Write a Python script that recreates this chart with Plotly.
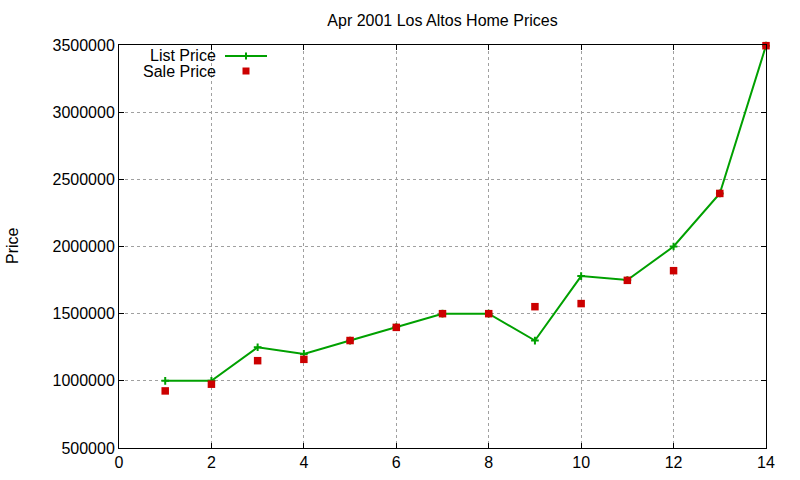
import plotly.graph_objects as go

# house index (x) and prices
house = [1, 2, 3, 4, 5, 6, 7, 8, 9, 10, 11, 12, 13, 14]
list_price = [1000000, 1000000, 1250000, 1200000, 1300000, 1400000, 1500000,
              1500000, 1300000, 1780000, 1750000, 2000000, 2395000, 3495000]
sale_price = [925000, 975000, 1150000, 1160000, 1300000, 1398000, 1500000,
              1500000, 1552000, 1575000, 1748000, 1820000, 2395000, 3495000]

x_ticks = [0, 2, 4, 6, 8, 10, 12, 14]
y_ticks = [500000, 1000000, 1500000, 2000000, 2500000, 3000000, 3500000]

GREEN = "#00a000"
RED = "#cc0000"
FONT = "Liberation Sans, Arial, sans-serif"

W, H = 800, 480
L, R, T, B = 119, 766, 45, 448   # plot area in pixels


def px_x(p):
    return (p - L) / (R - L)


def px_y(p):
    return (B - p) / (B - T)


fig = go.Figure()

fig.add_trace(go.Scatter(
    x=house, y=list_price, name="List Price",
    mode="lines+markers",
    line=dict(color=GREEN, width=2),
    marker=dict(symbol="cross-thin", size=5.5, line=dict(color=GREEN, width=2)),
    cliponaxis=False,
))
fig.add_trace(go.Scatter(
    x=house, y=sale_price, name="Sale Price",
    mode="markers",
    marker=dict(symbol="square", size=7.5, color=RED),
    cliponaxis=False,
))

axis_common = dict(
    showline=True, linecolor="black", linewidth=1, mirror="allticks",
    ticks="inside", ticklen=5, tickcolor="black",
    showgrid=True, gridcolor="#a0a0a0", griddash="dot", gridwidth=1,
    zeroline=False, automargin=False,
    tickfont=dict(family=FONT, size=16, color="black"),
)

fig.update_xaxes(range=[0, 14], tickvals=x_ticks, **axis_common)
fig.update_yaxes(range=[500000, 3500000], tickvals=y_ticks, tickformat="d",
                 **axis_common)

# gnuplot-style legend: text on the left, sample on the right
legend_shapes = [
    dict(type="line", xref="paper", yref="paper",
         x0=px_x(225), x1=px_x(267), y0=px_y(56), y1=px_y(56),
         line=dict(color=GREEN, width=2)),
    dict(type="line", xref="paper", yref="paper",
         x0=px_x(246), x1=px_x(246), y0=px_y(52.5), y1=px_y(59.5),
         line=dict(color=GREEN, width=2)),
    dict(type="rect", xref="paper", yref="paper",
         x0=px_x(242.5), x1=px_x(249.5), y0=px_y(67.5), y1=px_y(74.5),
         line=dict(width=0), fillcolor=RED),
]

annotations = [
    dict(text="List Price", xref="paper", yref="paper",
         x=px_x(218), y=px_y(55.5), xanchor="right", yanchor="middle",
         showarrow=False, font=dict(family=FONT, size=16, color="black")),
    dict(text="Sale Price", xref="paper", yref="paper",
         x=px_x(218), y=px_y(72), xanchor="right", yanchor="middle",
         showarrow=False, font=dict(family=FONT, size=16, color="black")),
    dict(text="Price", xref="paper", yref="paper",
         x=px_x(12), y=px_y(246), xanchor="center", yanchor="middle",
         textangle=-90, showarrow=False,
         font=dict(family=FONT, size=16, color="black")),
]

fig.update_layout(
    width=W, height=H,
    margin=dict(l=L, r=W - R, t=T, b=H - B),
    paper_bgcolor="white", plot_bgcolor="white",
    showlegend=False,
    title=dict(text="Apr 2001 Los Altos Home Prices",
               x=0.5, xref="paper", y=1 - 20 / H, yref="container",
               xanchor="center", yanchor="middle",
               font=dict(family=FONT, size=16, color="black")),
    font=dict(family=FONT, size=16, color="black"),
    shapes=legend_shapes,
    annotations=annotations,
)

# drop the default 8px page margin so the figure sits at the window corner
fig.write_html("out.html", config={"displayModeBar": False},
               post_script="document.body.style.margin='0';")
